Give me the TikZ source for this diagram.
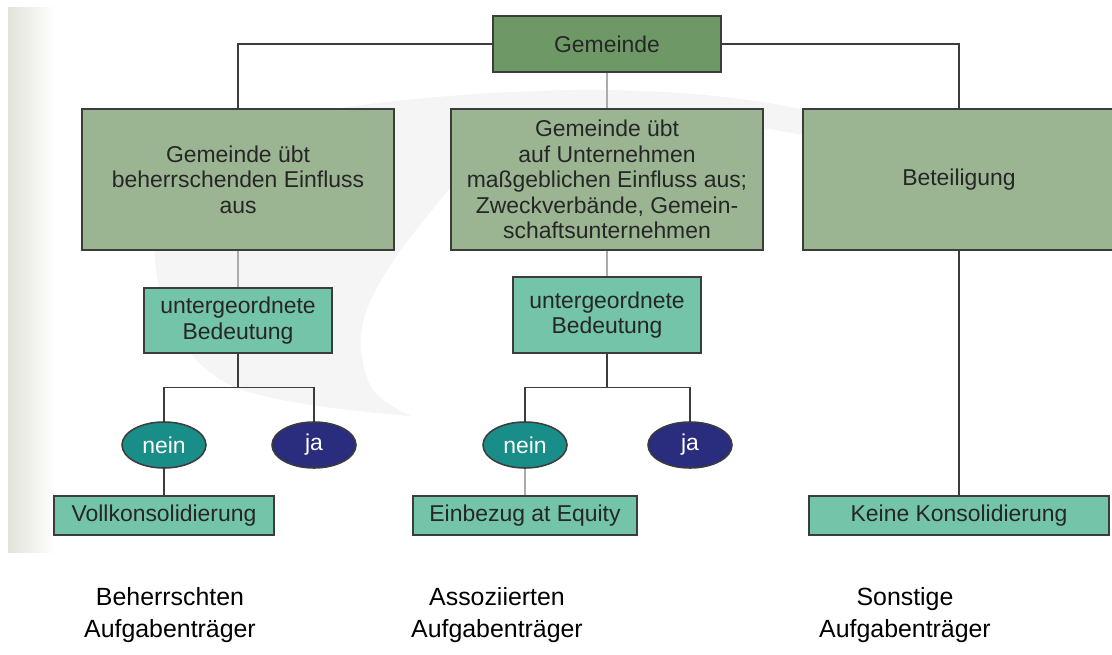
\documentclass[tikz,border=0pt]{standalone}
\usepackage{fontspec}
\setmainfont{Liberation Sans}
\usetikzlibrary{shapes.geometric}
\usetikzlibrary{positioning}
\usetikzlibrary{calc}
\definecolor{gemgreen}{HTML}{6E9866}
\definecolor{sagegreen}{HTML}{9BB592}
\definecolor{mintbox}{HTML}{73C4A9}
\definecolor{neinteal}{HTML}{198E89}
\definecolor{janavy}{HTML}{2A2C7E}
\definecolor{edgegray}{HTML}{3C3C3C}
\definecolor{bandgray}{HTML}{E2E3DA}
\def\linewd{0.8pt}
\tikzset{
orgbox/.style 2 args={draw=edgegray, line width=1.1pt, fill=#1, text=black!85,
	align=center, inner sep=0pt, minimum width=#2,
	font=\fontsize{16.3}{18.2}\selectfont},
topbox/.style={orgbox={gemgreen}{5.7cm}, minimum height=1.4cm},
bigbox/.style={orgbox={sagegreen}{7.8cm}, minimum height=3.525cm},
subbox/.style={orgbox={mintbox}{4.7cm}, minimum height=#1},
endbox/.style={orgbox={mintbox}{#1}, minimum height=0.975cm},
answer/.style={ellipse, draw=edgegray, line width=1.1pt, fill=#1, text=white,
	inner sep=0pt, minimum width=2.1cm, minimum height=1.15cm,
	font=\fontsize{16.3}{18}\selectfont},
conn/.style={draw=edgegray, line width=\linewd},
faint/.style={draw=gray!65, line width=\linewd},
caption/.style={align=center, font=\fontsize{17.7}{22.7}\selectfont},
swoosh/.style={fill=black!4},
}
\begin{document}
\begin{tikzpicture}[x=0.025cm, y=-0.025cm]
\useasboundingbox (0,0) rectangle (1112,655);
%Background
\shade[left color=bandgray, right color=white] (8,8) rectangle (55,552);
\fill[swoosh] plot[smooth, tension=0.6] coordinates {(411,416) (230,385) (160,290) (175,180) (300,115) (600,90) (850,120) (1090,215)}
	-- plot[smooth, tension=0.6] coordinates {(1090,215) (850,145) (650,118) (500,150) (420,225) (365,315) (370,385) (411,416)} -- cycle;

%Place the nodes
\node[topbox] (gem) at (607,44) {Gemeinde};
\node[bigbox] (b1) at (238,179.5) {Gemeinde übt\\beherrschenden Einfluss\\aus};
\node[bigbox] (b2) at (607,179.5) {Gemeinde übt\\auf Unternehmen\\maßgeblichen Einfluss aus;\\Zweckverbände, Gemein-\\schaftsunternehmen};
\node[bigbox] (b3) at (959,179.5) {Beteiligung};

\node[subbox=1.625cm] (s1) at (238,320.5) {untergeordnete\\Bedeutung};
\node[subbox=1.9cm] (s2) at (607,315) {untergeordnete\\Bedeutung};

\node[answer=neinteal] (n1) at (164,445) {nein};
\node[answer=janavy] (j1) at (314,445) {ja};
\node[answer=neinteal] (n2) at (525,445) {nein};
\node[answer=janavy] (j2) at (690,445) {ja};

\node[endbox=5.5cm] (v1) at (164,515.5) {Vollkonsolidierung};
\node[endbox=5.6cm] (e2) at (525,515.5) {Einbezug at Equity};
\node[endbox=7.5cm] (k3) at (959,515.5) {Keine Konsolidierung};

\node[caption] (c1) at (170,615) {Beherrschten\\Aufgabenträger};
\node[caption] (c2) at (497,615) {Assoziierten\\Aufgabenträger};
\node[caption] (c3) at (905,615) {Sonstige\\Aufgabenträger};

%
\draw[conn] (gem.west) -| (b1.north);
\draw[conn] (gem.east) -| (b3.north);
\draw[faint] (gem.south) -- (b2.north);

%
\draw[faint] (b1.south) -- (s1.north);
\draw[conn] (s1.south) -- ++(0,34) -| (n1.north);
\draw[conn] (s1.south) -- ++(0,34) -| (j1.north);
\draw[conn] (n1.south) -- (v1.north);

%
\draw[faint] (b2.south) -- (s2.north);
\draw[conn] (s2.south) -- ++(0,34) -| (n2.north);
\draw[conn] (s2.south) -- ++(0,34) -| (j2.north);
\draw[faint] (n2.south) -- (e2.north);

%
\draw[conn] (b3.south) -- (k3.north);

\end{tikzpicture}
\end{document}
